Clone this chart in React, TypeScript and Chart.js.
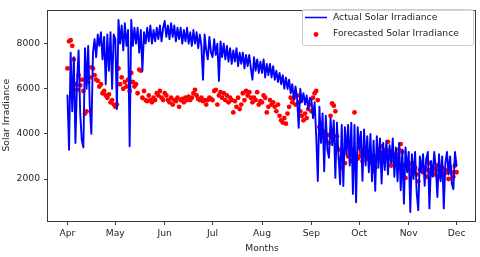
import { useEffect, useRef } from "react";
import { Chart, registerables } from "chart.js";
Chart.register(...registerables);

// day offsets from 1 Apr for month starts
const monthTicks = [0, 30, 61, 91, 122, 153, 183, 214, 244];
const monthLabels = ["Apr", "May", "Jun", "Jul", "Aug", "Sep", "Oct", "Nov", "Dec"];
const yTicks = [2000, 4000, 6000, 8000];

const actualApr = [5700, 3300, 7600, 5000, 7400, 3600, 6300, 7700, 4900, 3700,
  3400, 7800, 6000, 7900, 5200, 4000, 7600, 8200, 7400, 8400,
  7900, 8500, 7300, 8300, 6200, 8400, 6800, 8500, 6000, 8400];
const actualMay = [8200, 5100, 9050, 8000, 8800, 7700, 8900, 7900, 8600, 3450,
  9050, 7900, 8700, 8000, 8700, 7600, 8600, 6800, 8500, 8000, 8700,
  8100, 8800, 8000, 8600, 8100, 8700, 8200, 8800, 8100, 8700];
const actualJun = [9000, 8300, 8800, 8200, 8900, 8300, 8800, 8100, 8700, 8200,
  8700, 8000, 8600, 8100, 8700, 8000, 8500, 7900, 8600, 8000,
  8500, 7800, 8400, 7900, 6400, 8400, 7700, 7300, 8300, 7600];
const actualJul = [7400, 8200, 7500, 8000, 6350, 8100, 7400, 8000, 7300, 7900,
  7200, 7800, 7100, 7700, 7200, 7800, 7000, 7600, 7100, 7600,
  6900, 7500, 7000, 7500, 6900, 6400, 7400, 6800, 7300, 6700, 7200];
const actualAug = [6700, 7300, 6500, 7100, 6600, 7100, 6500, 7000, 6400, 6800,
  6300, 6700, 6200, 6600, 6000, 6500, 5990, 6400, 5800, 6200,
  5500, 6100, 5600, 4270, 6000, 5400, 5800, 5300, 5700, 5100, 5600];
const actualSep = [5500, 4700, 5400, 3900, 1910, 5200, 3600, 4900, 2340, 4800,
  3300, 2940, 4700, 3500, 4600, 2050, 4500, 3000, 1770, 4400,
  1690, 4300, 3100, 4400, 2600, 4500, 1340, 4400, 970, 4300];
const actualOct = [3300, 4100, 1920, 4200, 2600, 3900, 2300, 4000, 1900, 3700,
  1480, 3900, 2500, 3800, 1800, 3600, 2400, 3700, 2200, 3500,
  2700, 3800, 2100, 3400, 1900, 3600, 1500, 3300, 910, 3400, 2300];
const actualNov = [3200, 540, 3100, 2000, 3200, 1400, 620, 3000, 2300, 3100,
  1700, 2900, 3200, 700, 2800, 2100, 3200, 2500, 1200, 3100,
  1900, 3000, 700, 2700, 3200, 2200, 3000, 1800, 1550, 3200, 2600];

const forecastApr = [6900, 8100, 8150, 7900, 7300, 6200, 5950, 6600, 6150, 6400,
  5900, 4900, 5000, 6300, 6500, 6950, 6900, 6600, 6400, 6350,
  6100, 6200, 5800, 5900, 5700, 5600, 5750, 5400, 5500, 5300];
const forecastMay = [5200, 5300, 6900, 6200, 6500, 6000, 6300, 6100, 6400, 5900,
  6700, 6300, 6100, 6200, 5800, 6850, 6800, 5600, 5900, 5500,
  5450, 5700, 5500, 5400, 5600, 5500, 5800, 5700, 5900, 5600, 5500];
const forecastJun = [5800, 5700, 5500, 5400, 5600, 5300, 5500, 5450, 5600, 5200,
  5500, 5550, 5400, 5600, 5500, 5650, 5500, 5600, 5800, 5950,
  5700, 5550, 5500, 5600, 5450, 5500, 5300, 5500, 5600, 5550];
const forecastJul = [5500, 5900, 5950, 5300, 5700, 5850, 5600, 5800, 5500, 5700,
  5400, 5600, 5500, 4950, 5450, 5200, 5600, 5100, 5300, 5800,
  5500, 5900, 5700, 5850, 5600, 5400, 5600, 5500, 5850, 5300, 5450];
const forecastAug = [5400, 5700, 5600, 4950, 5200, 5500, 5300, 5400, 5200, 5000,
  5300, 4800, 4600, 4500, 4700, 4450, 4900, 5200, 5600, 5400,
  5600, 5300, 5700, 5400, 5000, 4800, 4600, 4900, 4700, 5100, 5300];
const forecastSep = [5000, 5600, 5800, 5900, 5500, 4300, 4000, 3900, 4100, 3750,
  3950, 3600, 4800, 5350, 5250, 5000, 3900, 3300, 2900, 2500,
  3100, 2700, 3400, 3000, 3200, 2800, 3300, 4950, 3100, 2900];
const forecastOct = [3000, 3200, 2800, 3300, 3000, 2900, 3100, 2700, 2900, 2350,
  2500, 3000, 3300, 3100, 3450, 3200, 2900, 3300, 3650, 3200,
  2600, 3000, 2800, 3100, 2900, 3300, 3550, 3200, 2600, 2050, 2700];
const forecastNov = [2600, 2400, 2700, 2300, 2500, 2200, 1900, 2400, 2600, 2300,
  2500, 2100, 2400, 2700, 2300, 2500, 2200, 2400, 2600, 2100,
  2300, 2500, 2200, 2400, 2300, 2000, 2500, 2300, 2100, 2600, 2300];

const actual = [...actualApr, ...actualMay, ...actualJun, ...actualJul, ...actualAug, ...actualSep, ...actualOct, ...actualNov];
const forecast = [...forecastApr, ...forecastMay, ...forecastJun, ...forecastJul, ...forecastAug, ...forecastSep, ...forecastOct, ...forecastNov];

const FONT = "'DejaVu Sans', sans-serif";
const FS = 9.2;
const TXT = "#262626";
const FRAME = "#3a3a3a";

export default function App() {
  const ref = useRef<HTMLCanvasElement | null>(null);
  useEffect(() => {
    document.body.style.margin = "0";
    const canvas = ref.current;
    if (!canvas) return;
    const framePlugin = {
      id: "frameLegend",
      afterDraw(chart: any) {
        const { ctx, chartArea: a } = chart;
        ctx.save();
        ctx.strokeStyle = FRAME;
        ctx.lineWidth = 1;
        ctx.strokeRect(Math.round(a.left) - 0.5, Math.round(a.top) + 0.5, Math.round(a.right - a.left), Math.round(a.bottom - a.top));
        // legend
        const bx = 302, by = 9, bw = 171, bh = 36;
        ctx.fillStyle = "rgba(255,255,255,0.8)";
        ctx.strokeStyle = "#cccccc";
        ctx.beginPath();
        ctx.roundRect(bx + 0.5, by + 0.5, bw, bh, 2);
        ctx.fill();
        ctx.stroke();
        ctx.strokeStyle = "#0000ff";
        ctx.lineWidth = 1.5;
        ctx.beginPath();
        ctx.moveTo(305, 17.5);
        ctx.lineTo(327, 17.5);
        ctx.stroke();
        ctx.fillStyle = "#ff0000";
        ctx.beginPath();
        ctx.arc(316, 34.5, 2.4, 0, Math.PI * 2);
        ctx.fill();
        ctx.fillStyle = TXT;
        ctx.font = `${FS}px ${FONT}`;
        ctx.textBaseline = "middle";
        ctx.textAlign = "left";
        ctx.fillText("Actual Solar Irradiance", 333, 17.5);
        ctx.fillText("Forecasted Solar Irradiance", 333, 34);
        ctx.restore();
      },
    };
    const chart = new Chart(canvas, {
      type: "line",
      data: {
        datasets: [
          {
            label: "Actual Solar Irradiance",
            data: actual.map((v, i) => ({ x: i, y: v })),
            borderColor: "#0000ff",
            borderWidth: 1.9,
            borderJoinStyle: "round",
            borderCapStyle: "round",
            pointRadius: 0,
            tension: 0,
            fill: false,
            order: 0,
          },
          {
            label: "Forecasted Solar Irradiance",
            data: forecast.map((v, i) => ({ x: i, y: v })),
            showLine: false,
            pointRadius: 2.4,
            pointBackgroundColor: "#ff0000",
            pointBorderWidth: 0,
            borderColor: "#ff0000",
            order: 1,
          },
        ],
      },
      options: {
        animation: false,
        responsive: false,
        layout: { padding: { left: 0, top: 3, right: 3, bottom: 0 } },
        plugins: { legend: { display: false }, tooltip: { enabled: false } },
        scales: {
          x: {
            type: "linear",
            min: -12.2,
            max: 256.2,
            afterBuildTicks: (s: any) => {
              s.ticks = monthTicks.map((v) => ({ value: v }));
            },
            afterFit: (s: any) => {
              s.height = 36;
            },
            ticks: {
              autoSkip: false,
              maxRotation: 0,
              padding: 3.5,
              color: TXT,
              font: { family: FONT, size: FS },
              callback: (v: any) => monthLabels[monthTicks.indexOf(Number(v))] ?? "",
            },
            grid: { drawOnChartArea: false, drawTicks: true, tickLength: 4, color: FRAME },
            border: { display: false },
            title: { display: true, text: "Months", color: TXT, font: { family: FONT, size: FS }, padding: { top: 0, bottom: 2.5 } },
          },
          y: {
            type: "linear",
            min: 140,
            max: 9510,
            afterBuildTicks: (s: any) => {
              s.ticks = yTicks.map((v) => ({ value: v }));
            },
            afterFit: (s: any) => {
              s.width = 48;
            },
            ticks: {
              padding: 4,
              color: TXT,
              font: { family: FONT, size: FS },
              callback: (v: any) => String(v),
            },
            grid: { drawOnChartArea: false, drawTicks: true, tickLength: 4, color: FRAME },
            border: { display: false },
            title: { display: true, text: "Solar Irradiance", color: TXT, font: { family: FONT, size: FS }, padding: { top: 0.8, bottom: 0 } },
          },
        },
      },
      plugins: [framePlugin],
    });
    return () => chart.destroy();
  }, []);
  return (
    <div style={{ position: "fixed", left: 0, top: 0, width: 480, height: 257, background: "#fff" }}>
      <canvas ref={ref} width={480} height={257} style={{ width: 480, height: 257, display: "block" }} />
    </div>
  );
}
